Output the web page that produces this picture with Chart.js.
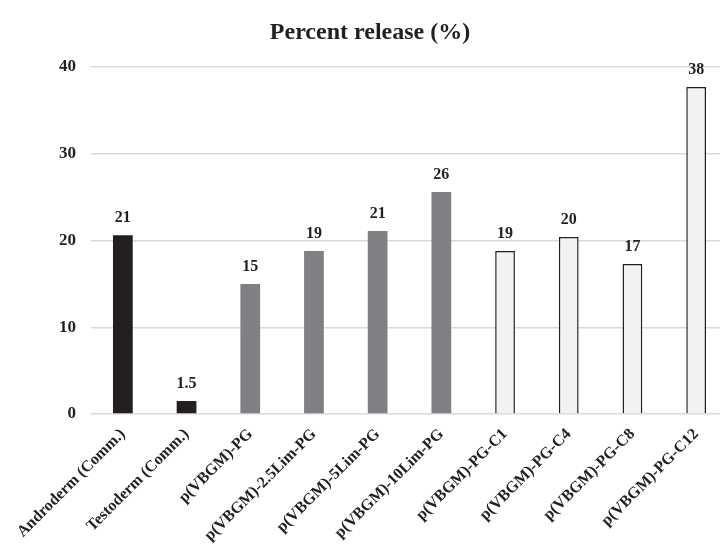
<!DOCTYPE html>
<html>
<head>
<meta charset="utf-8">
<script src="https://cdn.jsdelivr.net/npm/chart.js@4/dist/chart.umd.min.js"></script>
<style>
  html, body { margin: 0; padding: 0; background: #fff; overflow: hidden; }
  #wrap { width: 740px; height: 550px; }
</style>
</head>
<body>
<div id="wrap"><canvas id="c" width="740" height="550"></canvas></div>
<script>
// Formulations and their percent release
const categories = [
  'Androderm (Comm.)', 'Testoderm (Comm.)', 'p(VBGM)-PG', 'p(VBGM)-2.5Lim-PG',
  'p(VBGM)-5Lim-PG', 'p(VBGM)-10Lim-PG', 'p(VBGM)-PG-C1', 'p(VBGM)-PG-C4',
  'p(VBGM)-PG-C8', 'p(VBGM)-PG-C12'
];
const releaseValues = [20.6, 1.5, 15.0, 18.8, 21.1, 25.6, 18.8, 20.4, 17.3, 37.7];
const groups = ['comm', 'comm', 'lim', 'lim', 'lim', 'lim', 'c', 'c', 'c', 'c'];
const yTicks = [0, 10, 20, 30, 40];

const fills = { comm: '#231f20', lim: '#7f8084', c: '#f1f2f2' };
const borders = { comm: '#231f20', lim: '#7f8084', c: '#231f20' };

const SERIF = '"Liberation Serif", "DejaVu Serif", serif';

function fmt(v) {
  return v < 10 ? v.toFixed(1) : String(Math.round(v));
}

// Value labels above each bar plus the chart heading
const labelPlugin = {
  id: 'labels',
  afterDatasetsDraw(chart) {
    const ctx = chart.ctx;
    const meta = chart.getDatasetMeta(0);
    ctx.save();
    ctx.fillStyle = '#231f20';
    ctx.font = 'bold 16px ' + SERIF;
    ctx.textAlign = 'center';
    ctx.textBaseline = 'bottom';
    meta.data.forEach((bar, i) => {
      ctx.fillText(fmt(releaseValues[i]), bar.x, bar.y - 9);
    });
    ctx.font = 'bold 24px ' + SERIF;
    ctx.textBaseline = 'middle';
    ctx.fillText('Percent release (%)', 370, 33);
    ctx.restore();
  }
};

new Chart(document.getElementById('c'), {
  type: 'bar',
  data: {
    labels: categories,
    datasets: [{
      data: releaseValues,
      backgroundColor: groups.map(g => fills[g]),
      borderColor: groups.map(g => borders[g]),
      borderWidth: groups.map(g => g === 'c' ? 1.5 : 0),
      borderSkipped: 'bottom',
      barPercentage: 0.31,
      categoryPercentage: 1.0
    }]
  },
  options: {
    responsive: false,
    animation: false,
    layout: { padding: { top: 67, right: 12, left: 0, bottom: 0 } },
    plugins: { legend: { display: false }, tooltip: { enabled: false } },
    scales: {
      x: {
        grid: { display: false },
        border: { display: false },
        ticks: {
          color: '#231f20',
          font: { family: SERIF, size: 16, weight: 'bold' },
          minRotation: 45, maxRotation: 45, padding: 3, autoSkip: false
        },
        afterFit(scale) { scale.height = 136; }
      },
      y: {
        min: 0, max: 40,
        afterBuildTicks(scale) { scale.ticks = yTicks.map(v => ({ value: v })); },
        grid: { color: '#d9d9d9', lineWidth: 1.5, drawTicks: false },
        border: { display: false },
        ticks: {
          color: '#231f20',
          font: { family: SERIF, size: 17, weight: 'bold' },
          padding: 15
        },
        afterFit(scale) { scale.width = 91; }
      }
    }
  },
  plugins: [labelPlugin]
});
</script>
</body>
</html>
